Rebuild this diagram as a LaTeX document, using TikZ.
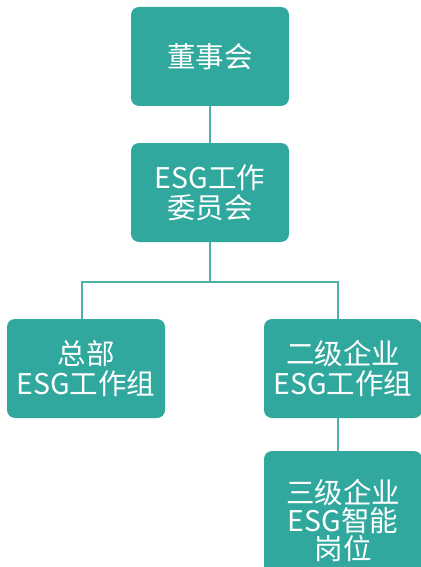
\documentclass[tikz,border=0pt]{standalone}
\usepackage{fontspec}
\newfontfamily\cjk{Noto Sans CJK SC}
\definecolor{boxteal}{HTML}{31A89E}
\definecolor{lineteal}{HTML}{4DB3A9}
\begin{document}
\begin{tikzpicture}[x=1pt,y=-1pt,
  orgbox/.style={fill=boxteal, draw=none, rounded corners=8pt, text=white,
    minimum width=158pt, align=center, inner sep=0pt,
    font=\cjk\fontsize{28.5}{30}\selectfont},
  conn/.style={draw=lineteal, line width=1.2pt}]
\useasboundingbox (0,0) rectangle (420,567);
\node[orgbox, minimum height=99pt] (b1) at (210,56.5) {董事会};
\node[orgbox, minimum height=99pt] (b2) at (210,192.5) {ESG工作\\委员会};
\node[orgbox, minimum height=99pt] (b3) at (86,368.5) {总部\\ESG工作组};
\node[orgbox, minimum height=99pt] (b4) at (343,368.5) {二级企业\\ESG工作组};
\node[orgbox, minimum height=139pt, font=\cjk\fontsize{28.5}{28}\selectfont] (b5) at (343,520.5) {三级企业\\ESG智能\\岗位};
\coordinate (j) at (210,282);
\draw[conn] (b1.south) -- (b2.north);
\draw[conn] (b2.south) -- (j);
\draw[conn] (j) -| ([xshift=-4pt]b3.north);
\draw[conn] (j) -| ([xshift=-5pt]b4.north);
\draw[conn] ([xshift=-5pt]b4.south) -- ([xshift=-5pt]b5.north);
\end{tikzpicture}
\end{document}
